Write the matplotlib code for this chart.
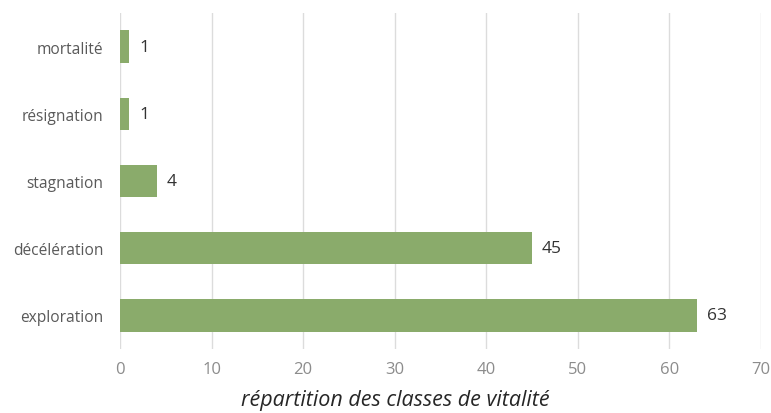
import matplotlib
matplotlib.use("Agg")
import matplotlib.pyplot as plt

# classes de vitalité et effectifs
classes = ['exploration', 'décélération', 'stagnation', 'résignation', 'mortalité']
counts = [63, 45, 4, 1, 1]
xticks = [0, 10, 20, 30, 40, 50, 60, 70]

plt.rcParams['font.family'] = ['Open Sans', 'DejaVu Sans']

fig = plt.figure(figsize=(7.71, 4.14), dpi=100)
ax = fig.add_axes([0.1556, 0.1546, 0.8314, 0.8116])

bars = ax.barh(range(len(classes)), counts, height=0.48, color='#8aab6b', zorder=3)
for i, v in enumerate(counts):
    ax.text(v + 1.1, i, str(v), va='center', ha='left', fontsize=12.5, color='#333333')

ax.set_xlim(0, 70)
ax.set_ylim(-0.5, len(classes) - 0.5)
ax.set_xticks(xticks)
ax.set_yticks(range(len(classes)))
ax.set_yticklabels(classes)
ax.grid(axis='x', color='#dcdcdc', linewidth=1, zorder=0)
for s in ax.spines.values():
    s.set_visible(False)
ax.tick_params(axis='y', length=0, pad=12, labelsize=11.2, labelcolor='#595959')
ax.tick_params(axis='x', length=0, pad=9, labelsize=12, labelcolor='#8c8c8c')
ax.set_xlabel('répartition des classes de vitalité', fontsize=15.5, style='italic',
              color='#262626')
ax.xaxis.set_label_coords(0.429, -0.12)

fig.savefig('out.png', dpi=100)
